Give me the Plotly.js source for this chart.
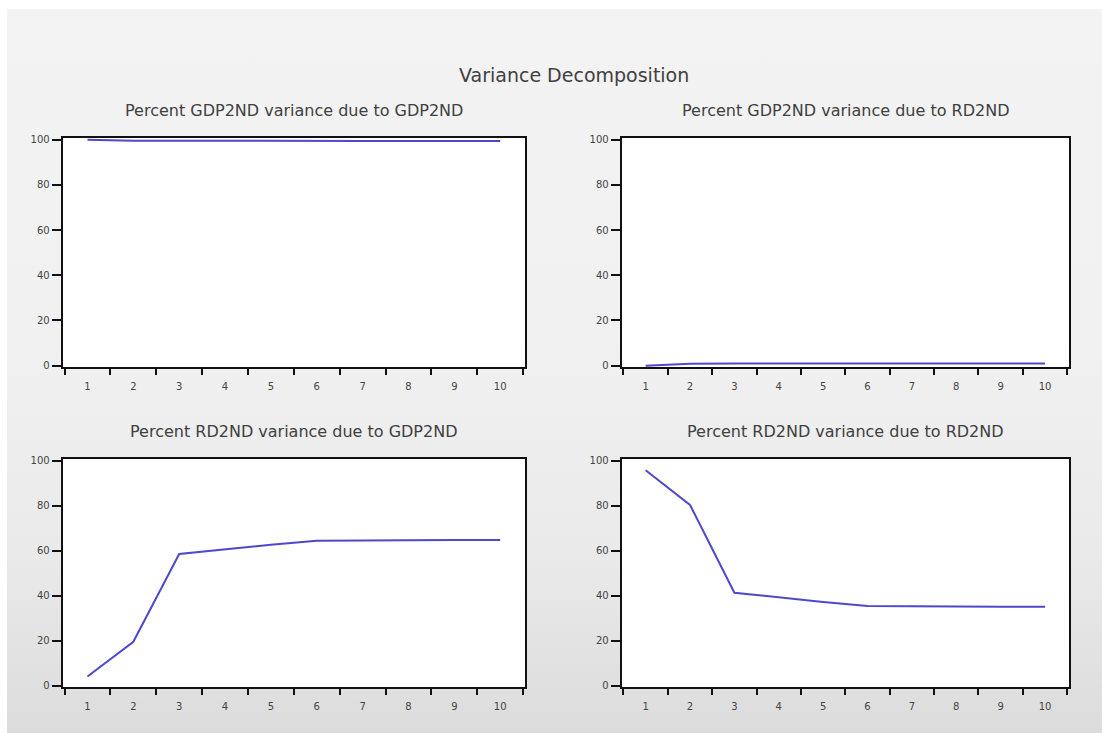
<!DOCTYPE html>
<html>
<head>
<meta charset="utf-8">
<script src="https://cdn.plot.ly/plotly-3.0.1.min.js"></script>
<style>
  html, body { margin: 0; padding: 0; background: #ffffff; }
  #wrap { position: relative; width: 1102px; height: 733px; overflow: hidden; background: #ffffff; }
  #bg { position: absolute; left: 7px; top: 9px; right: 0; bottom: 0;
        background: linear-gradient(to bottom, #f3f3f3 0%, #f1f1f1 45%, #eaeaea 75%, #dcdcdc 100%); }
  #chart { position: absolute; left: 0; top: 0; width: 1102px; height: 733px; }
</style>
</head>
<body>
<div id="wrap"><div id="bg"></div><div id="chart"></div></div>
<script>
// Periods (forecast horizon)
const periods = [1, 2, 3, 4, 5, 6, 7, 8, 9, 10];
const periodLabels = ["1", "2", "3", "4", "5", "6", "7", "8", "9", "10"];
const yTickVals = [0, 20, 40, 60, 80, 100];

// Variance decomposition series (percent)
const gdpDueGdp = [100.0, 99.6, 99.6, 99.5, 99.5, 99.5, 99.5, 99.5, 99.5, 99.5];
const gdpDueRd  = [0.0, 0.8, 0.9, 0.9, 1.0, 1.0, 1.0, 1.0, 1.0, 1.0];
const rdDueGdp  = [4.2, 19.6, 58.6, 60.8, 62.7, 64.5, 64.7, 64.8, 64.8, 64.8];
const rdDueRd   = [95.8, 80.4, 41.4, 39.2, 37.3, 35.5, 35.3, 35.2, 35.2, 35.2];

const mainTitle = "Variance Decomposition";
const panelTitles = [
  "Percent GDP2ND variance due to GDP2ND",
  "Percent GDP2ND variance due to RD2ND",
  "Percent RD2ND variance due to GDP2ND",
  "Percent RD2ND variance due to RD2ND"
];
const panelSeries = [gdpDueGdp, gdpDueRd, rdDueGdp, rdDueRd];

const lineColor = "#4d48cc";
const frameColor = "#111111";
const tickFontColor = "#444444";
const fontFamily = "DejaVu Sans, Liberation Sans, Arial, sans-serif";

const W = 1102, H = 733;
const xDomains = [[62.7 / W, 525 / W], [621.7 / W, 1069 / W]];
const yDomains = [[1 - 367 / H, 1 - 138 / H], [1 - 687.3 / H, 1 - 459 / H]];

const traces = [];
const layout = {
  width: W, height: H,
  margin: {l: 0, r: 0, t: 0, b: 0},
  paper_bgcolor: "rgba(0,0,0,0)",
  plot_bgcolor: "#ffffff",
  showlegend: false,
  font: {family: fontFamily, color: "#333333"},
  annotations: []
};

const boundaries = [];
for (let i = 0; i <= periods.length; i++) boundaries.push(periods[0] - 0.5 + i);

for (let p = 0; p < 4; p++) {
  const col = p % 2, row = Math.floor(p / 2);
  const n = p + 1;
  const xa = n === 1 ? "x" : "x" + n;
  const ya = n === 1 ? "y" : "y" + n;
  traces.push({
    type: "scatter", mode: "lines",
    x: periods, y: panelSeries[p],
    xaxis: xa, yaxis: ya,
    line: {color: lineColor, width: 2},
    hoverinfo: "x+y"
  });
  layout["xaxis" + (n === 1 ? "" : n)] = {
    domain: xDomains[col], anchor: ya,
    range: [0.46, 10.54],
    tickmode: "array", tickvals: periods, ticktext: periodLabels,
    ticks: "outside", ticklen: 9, tickcolor: "rgba(0,0,0,0)",
    tickfont: {size: 10, color: tickFontColor, family: fontFamily},
    minor: {tickmode: "array", tickvals: boundaries, ticks: "outside",
            ticklen: 6, tickwidth: 2, tickcolor: frameColor, showgrid: false},
    showgrid: false, zeroline: false,
    showline: true, linecolor: frameColor, linewidth: 2, mirror: true,
    fixedrange: true
  };
  layout["yaxis" + (n === 1 ? "" : n)] = {
    domain: yDomains[row], anchor: xa,
    range: [-0.6, 100.8],
    tickmode: "array", tickvals: yTickVals,
    ticks: "outside", ticklen: 9, tickwidth: 2, tickcolor: frameColor,
    tickfont: {size: 10, color: tickFontColor, family: fontFamily},
    showgrid: false, zeroline: false,
    showline: true, linecolor: frameColor, linewidth: 2, mirror: true,
    fixedrange: true
  };
  layout.annotations.push({
    text: panelTitles[p], showarrow: false,
    xref: "paper", yref: "paper",
    x: (xDomains[col][0] + xDomains[col][1]) / 2,
    y: yDomains[row][1] + 27 / H,
    xanchor: "center", yanchor: "middle",
    font: {size: 16, color: "#404040", family: fontFamily}
  });
}

layout.annotations.push({
  text: mainTitle, showarrow: false,
  xref: "paper", yref: "paper",
  x: 574 / W, y: 1 - 75 / H,
  xanchor: "center", yanchor: "middle",
  font: {size: 19, color: "#404040", family: fontFamily}
});

Plotly.newPlot("chart", traces, layout, {displayModeBar: false, staticPlot: true});
</script>
</body>
</html>
